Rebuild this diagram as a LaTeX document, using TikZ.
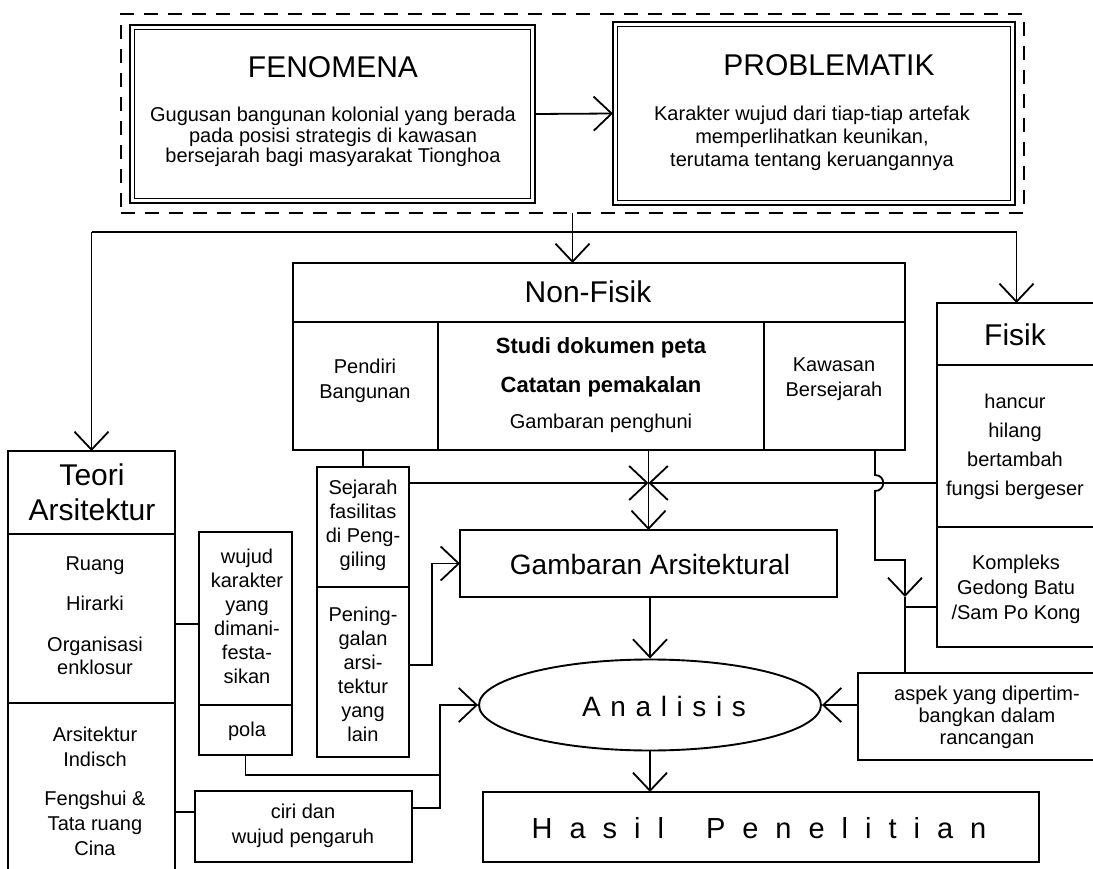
\documentclass[tikz,border=0pt]{standalone}
\usepackage{fontspec}
\setmainfont{Liberation Sans}
\usetikzlibrary{arrows.meta,shapes.geometric}
\begin{document}
\begin{tikzpicture}[x=1pt,y=-1pt,
  box/.style={draw, line width=1.9pt, anchor=north west, inner sep=0pt, outer sep=0pt},
  ln/.style={line width=1.8pt},
  arr/.style={line width=1.8pt, -{Straight Barb[length=18pt,width=34pt]}},
  txt/.style={align=center, inner sep=0pt, font=\fontsize{20}{24}\selectfont},
  ttl/.style={align=center, inner sep=0pt, font=\fontsize{30}{35}\selectfont}]
\useasboundingbox (0,0) rectangle (1093,869);

% ---- top group
\node[box, dash pattern=on 14pt off 10pt, line width=1.6pt, minimum width=903pt, minimum height=199pt] (grp) at (121,14) {};
\node[box, line width=2.6pt, minimum width=405pt, minimum height=178pt] (fen) at (130,25) {};
\node[draw, line width=1.1pt, minimum width=396pt, minimum height=169pt, inner sep=0pt] (fenin) at (fen.center) {};
\node[ttl] (fenT) at (333,67) {FENOMENA};
\node[txt, font=\fontsize{20}{20.5}\selectfont] (fenB) at (333,137) {Gugusan bangunan kolonial yang berada\\pada posisi strategis di kawasan\\bersejarah bagi masyarakat Tionghoa};

\node[box, line width=2.6pt, minimum width=402pt, minimum height=183pt] (prob) at (613,22) {};
\node[draw, line width=1.1pt, minimum width=393pt, minimum height=174pt, inner sep=0pt] (probin) at (prob.center) {};
\node[ttl] (probT) at (829,65) {PROBLEMATIK};
\node[txt, font=\fontsize{20}{23}\selectfont] (probB) at (812,138) {Karakter wujud dari tiap-tiap artefak\\memperlihatkan keunikan,\\terutama tentang keruangannya};

% ---- Non-Fisik
\node[box, minimum width=612pt, minimum height=59pt] (nft) at (293,263) {};
\node[ttl] (nftT) at (588,292) {Non-Fisik};
\node[box, minimum width=145pt, minimum height=128pt] (nf1) at (293,322) {};
\node[box, minimum width=326pt, minimum height=128pt] (nf2) at (438,322) {};
\node[box, minimum width=141pt, minimum height=128pt] (nf3) at (764,322) {};
\node[txt, font=\fontsize{20}{25}\selectfont] (nf1T) at (365,381) {Pendiri\\Bangunan};
\node[txt, font=\fontsize{22}{26}\selectfont\bfseries] (nf2a) at (601,348) {Studi dokumen peta};
\node[txt, font=\fontsize{22}{26}\selectfont\bfseries] (nf2b) at (601,387) {Catatan pemakalan};
\node[txt] (nf2c) at (601,423) {Gambaran penghuni};
\node[txt, font=\fontsize{20}{25}\selectfont] (nf3T) at (834,379) {Kawasan\\Bersejarah};

% ---- Fisik
\node[box, minimum width=159pt, minimum height=62pt] (fist) at (937,303) {};
\node[ttl] (fistT) at (1015,335) {Fisik};
\node[box, minimum width=159pt, minimum height=162pt] (fis1) at (937,365) {};
\node[box, minimum width=159pt, minimum height=120pt] (fis2) at (937,527) {};
\node[txt, font=\fontsize{20}{29}\selectfont] (fis1T) at (1015,447) {hancur\\hilang\\bertambah\\fungsi bergeser};
\node[txt, font=\fontsize{20}{25}\selectfont] (fis2T) at (1016,589) {Kompleks\\Gedong Batu\\/Sam Po Kong};

% ---- Teori Arsitektur
\node[box, minimum width=167pt, minimum height=83pt] (teot) at (8,451) {};
\node[ttl] (teotT) at (92,492) {Teori\\Arsitektur};
\node[box, minimum width=167pt, minimum height=169pt] (teo1) at (8,534) {};
\node[box, minimum width=167pt, minimum height=177pt] (teo2) at (8,703) {};
\node[txt] (teo1a) at (95,566) {Ruang};
\node[txt] (teo1b) at (95,603) {Hirarki};
\node[txt, font=\fontsize{20}{23}\selectfont] (teo1c) at (95,656) {Organisasi\\enklosur};
\node[txt, font=\fontsize{20}{25}\selectfont] (teo2a) at (95,747) {Arsitektur\\Indisch};
\node[txt, font=\fontsize{20}{25}\selectfont] (teo2b) at (95,823) {Fengshui \&\\Tata ruang\\Cina};

% ---- wujud / pola
\node[box, minimum width=93pt, minimum height=173pt] (wuj1) at (199,532) {};
\node[box, minimum width=93pt, minimum height=50pt] (wuj2) at (199,705) {};
\node[txt, font=\fontsize{20}{24}\selectfont] (wuj1T) at (247,616) {wujud\\karakter\\yang\\dimani-\\festa-\\sikan};
\node[txt] (wuj2T) at (247,731) {pola};

% ---- Sejarah / Peninggalan
\node[box, minimum width=92pt, minimum height=120pt] (sej1) at (317,467) {};
\node[box, minimum width=92pt, minimum height=170pt] (sej2) at (317,587) {};
\node[txt, font=\fontsize{20}{24}\selectfont] (sej1T) at (363,525) {Sejarah\\fasilitas\\di Peng-\\giling};
\node[txt, font=\fontsize{20}{24}\selectfont] (sej2T) at (363,674) {Pening-\\galan\\arsi-\\tektur\\yang\\lain};

% ---- ciri
\node[box, minimum width=217pt, minimum height=71pt] (ciri) at (195,791) {};
\node[txt, font=\fontsize{20}{25}\selectfont] (ciriT) at (303,826) {ciri dan\\wujud pengaruh};

% ---- Gambaran, Analisis, Hasil, aspek
\node[box, minimum width=377pt, minimum height=67pt] (gam) at (460,530) {};
\node[ttl, font=\fontsize{28}{32}\selectfont] (gamT) at (650,564) {Gambaran Arsitektural};
\node[draw, ellipse, line width=1.9pt, minimum width=342pt, minimum height=91pt, inner sep=0pt] (ana) at (650,705) {};
\node[ttl, font=\fontsize{28}{32}\selectfont] (anaT) at (664,706) {A\kern9.6pt n\kern9.6pt a\kern9.6pt l\kern9.6pt i\kern9.6pt s\kern9.6pt i\kern9.6pt s};
\node[box, minimum width=556pt, minimum height=70pt] (hasil) at (483,792) {};
\node[ttl, font=\fontsize{29}{32}\selectfont] (hasilT) at (759,828) {H\kern17pt a\kern17pt s\kern17pt i\kern17pt l\kern42pt P\kern17pt e\kern17pt n\kern17pt e\kern17pt l\kern17pt i\kern17pt t\kern17pt i\kern17pt a\kern17pt n};
\node[box, minimum width=242pt, minimum height=87pt] (aspek) at (858,673) {};
\node[txt, font=\fontsize{20}{22}\selectfont] (aspekT) at (987,717) {aspek yang dipertim-\\bangkan dalam\\rancangan};

% ---- connectors
\draw[arr] (fen.east) -- (prob.west);
\draw[arr] (grp.south) -- (grp.south |- nft.north);
\coordinate (jL) at (teot.north |- 0,232);
\coordinate (jR) at (fist.north |- 0,232);
\draw[ln] (jL) -- (jR);
\draw[arr] (jL) -- (teot.north);
\draw[arr] (jR) -- (fist.north);

\draw[ln] (sej1.north) -- (sej1.north |- nf1.south);
\draw[arr] (gam.north |- nf2.south) -- (gam.north);
\coordinate (X) at (gam.north |- 0,483);
\draw[arr] (sej1.east |- X) -- (X);
\draw[arr] (fis1.west |- X) -- (X);

\coordinate (pk) at (432,0);
\draw[arr] (sej2.east |- 0,665) -- (pk |- 0,665) -- (gam.west -| pk) -- (gam.west);
\draw[arr] (ana.north |- gam.south) -- (ana.north);
\draw[arr] (ana.south) -- (ana.south |- hasil.north);

\draw[ln] (teo1.east |- 0,624) -- (wuj1.west |- 0,624);
\draw[ln] (teo2.east |- 0,812) -- (ciri.west |- 0,812);
\coordinate (lv) at (440,0);
\draw[arr] (ciri.east |- 0,808) -- (lv |- 0,808) -- (lv |- ana.west) -- (ana.west);
\draw[ln] (wuj2.south) -- (wuj2.south |- 0,775) -- (lv |- 0,775);

\coordinate (k0) at (nf3.south -| 875,0);
\coordinate (J) at (905,597);
\draw[arr] (k0) -- (875,475) .. controls (886,475) and (886,491) .. (875,491) -- (875,560) -- (J |- 0,560) -- (J);
\draw[ln] (fis2.west |- 0,607) -- (J |- 0,607);
\draw[ln] (J) -- (J |- aspek.north);
\draw[arr] (aspek.west |- ana.east) -- (ana.east);
\end{tikzpicture}
\end{document}
